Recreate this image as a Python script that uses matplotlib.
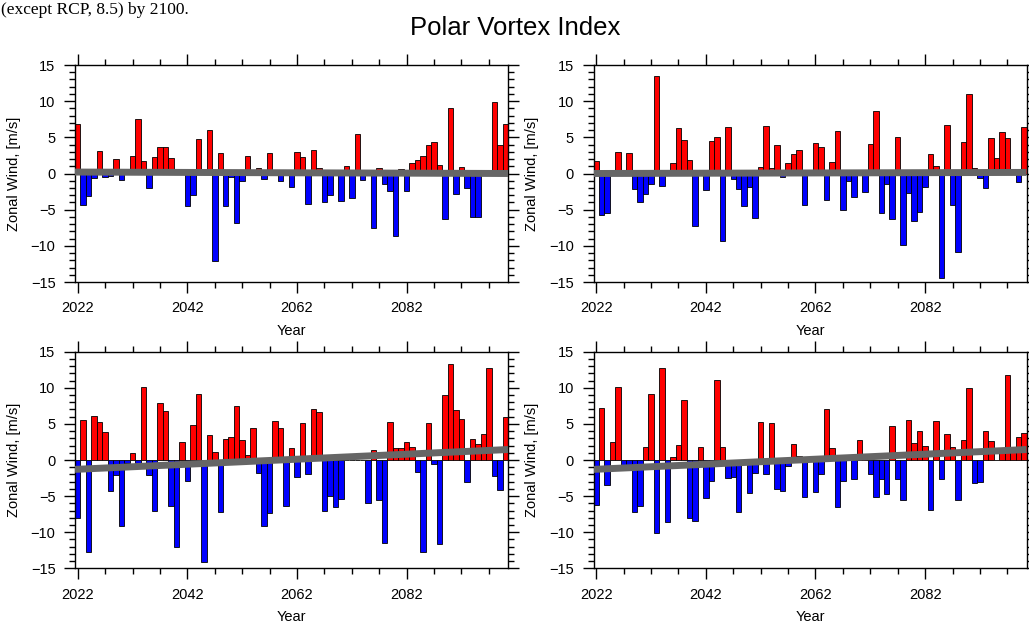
import numpy as np
import matplotlib
matplotlib.use('Agg')
import matplotlib.pyplot as plt
from matplotlib.ticker import MultipleLocator, FixedLocator

plt.rcParams['font.family'] = ['Liberation Sans', 'DejaVu Sans']

# Years on the x axis
years = np.arange(2022, 2101)

# Zonal wind anomaly per year (m/s), one value per year 2022..2100
wind_1 = [6.8, -4.3, -3.1, -0.6, 3.1, -0.45, -0.4, 2.0, -0.9, 0.0,
          2.4, 7.6, 1.75, -2.0, 2.3, 3.6, 3.65, 2.2, 0.0, 0.0,
          -4.5, -3.0, 4.75, 0.0, 6.05, -12.1, 2.8, -4.5, -0.5, -6.9,
          -1.1, 2.4, 0.0, 0.7, -0.8, 2.9, 0.0, -1.1, 0.0, -1.9,
          2.95, 2.3, -4.25, 3.3, 0.8, -3.9, -3.0, 0.0, -3.8, 1.05,
          -3.45, 5.5, -0.9, 0.0, -7.6, 0.7, -1.5, -2.45, -8.6, 0.65,
          -2.4, 1.45, 1.9, 2.45, 3.9, 4.4, 1.15, -6.35, 9.05, -2.85,
          0.85, -1.95, -6.0, -6.0, 0.0, 0.0, 9.85, 3.9, 6.9]

wind_2 = [1.7, -5.8, -5.5, 0.5, 2.95, 0.5, 2.85, -2.15, -3.9, -2.85,
          -1.5, 13.5, -1.7, 0.0, 1.4, 6.35, 4.7, 1.9, -7.2, 0.0,
          -2.25, 4.45, 5.1, -9.3, 6.45, -0.8, -2.1, -4.5, -1.85, -6.2,
          0.9, 6.6, 0.8, 3.9, -0.45, 1.5, 2.7, 3.2, -4.4, 0.0,
          4.2, 3.7, -3.7, 1.65, 5.9, -5.1, -1.05, -3.2, 0.0, -2.55,
          4.1, 8.7, -5.45, -1.4, -6.3, 5.0, -9.9, -2.75, -6.6, -5.3,
          -1.85, 2.75, 1.1, -14.45, 6.7, -4.4, -10.85, 4.35, 11.0, 0.8,
          -0.6, -2.0, 4.85, 2.15, 5.7, 4.9, 0.0, -1.15, 6.4]

wind_3 = [-8.0, 5.5, -12.8, 6.1, 5.2, 3.85, -4.35, -2.1, -9.1, -0.45,
          1.0, -0.45, 10.05, -2.1, -7.05, 7.9, 6.85, -6.35, -12.1, 2.45,
          -2.9, 4.9, 9.1, -14.1, 3.45, 1.15, -7.25, 2.95, 3.2, 7.5,
          2.8, 0.7, 4.45, -1.8, -9.2, -7.4, 5.4, 4.45, -6.35, 1.6,
          -2.3, 5.1, -1.95, 7.0, 6.7, -7.0, -4.95, -6.45, -5.45, 0.0,
          0.0, 0.0, 0.0, -6.0, 1.4, -5.55, -11.55, 5.2, 1.6, 1.6,
          2.45, 1.8, -1.7, -12.8, 5.15, -0.5, -11.7, 8.95, 13.35, 6.95,
          5.7, -3.0, 2.9, 2.25, 3.55, 12.75, -2.2, -4.2, 6.0]

wind_4 = [-6.2, 7.25, -3.5, 2.45, 10.1, -0.65, -0.65, -7.15, -6.4, 1.8,
          9.1, -10.1, 12.8, -8.6, 0.35, 2.05, 8.3, -8.1, -8.45, 1.8,
          -5.25, -2.9, 11.1, 1.8, -2.5, -2.4, -7.2, 0.0, -4.6, -1.75,
          5.25, -1.95, 5.1, -4.05, -4.25, -0.85, 2.15, 0.6, -5.15, 0.0,
          -4.4, -1.9, 7.1, 1.7, -6.55, -2.85, 0.7, -2.7, 2.8, 0.85,
          -1.95, -5.1, -2.6, -4.75, 4.75, -2.7, -5.6, 5.6, 2.35, 4.05,
          2.0, -6.9, 5.4, -2.7, 3.55, 1.75, -5.55, 2.8, 10.0, -3.15,
          -3.05, 4.05, 2.65, 0.0, 1.2, 11.8, 1.7, 3.2, 3.8]

# Linear trend line, value at the left and right edge of each panel
trend_1 = [0.2, 0.0]
trend_2 = [0.0, 0.15]
trend_3 = [-1.3, 1.45]
trend_4 = [-1.3, 1.45]

title = 'Polar Vortex Index'
note = '(except RCP, 8.5) by 2100.'
ylab = 'Zonal Wind, [m/s]'
xlab = 'Year'

W, H = 1029, 625
fig = plt.figure(figsize=(W / 100., H / 100.), dpi=100)

# panel boxes in pixels: left, top, width, height
boxes = [(75, 65, 433, 217), (593.5, 65, 433, 217),
         (75, 351.7, 433, 216.6), (593.5, 351.7, 433, 216.6)]
winds = [wind_1, wind_2, wind_3, wind_4]
trends = [trend_1, trend_2, trend_3, trend_4]

for box, w, tr in zip(boxes, winds, trends):
    x0, y0, bw, bh = box
    ax = fig.add_axes([x0 / W, 1 - (y0 + bh) / H, bw / W, bh / H])
    w = np.array(w)
    cols = np.where(w >= 0, 'red', 'blue')
    ax.bar(years, w, width=1.0, color=cols, edgecolor='black', linewidth=0.6, zorder=2)
    ax.plot([2021.5, 2100.5], tr, color='#666666', lw=5, solid_capstyle='butt', zorder=3)

    ax.set_xlim(2021.5, 2100.5)
    ax.set_ylim(-15, 15)
    ax.xaxis.set_major_locator(FixedLocator([2022, 2042, 2062, 2082]))
    ax.xaxis.set_minor_locator(FixedLocator(np.arange(2027, 2100, 5)))
    ax.yaxis.set_major_locator(MultipleLocator(5))
    ax.yaxis.set_minor_locator(MultipleLocator(1))
    ax.tick_params(which='both', direction='out', top=True, right=True,
                   labeltop=False, labelright=False, width=1.0, labelsize=10.5)
    ax.tick_params(which='major', length=8, pad=6)
    ax.tick_params(which='minor', length=4.5)
    for s in ax.spines.values():
        s.set_linewidth(1.0)

    ax.set_ylabel(ylab, fontsize=10.5)
    ax.yaxis.set_label_coords(-0.125, 0.5)
    ax.set_xlabel(xlab, fontsize=10.5)
    ax.xaxis.set_label_coords(0.5, -0.194)

fig.text(515 / W, 1 - 28 / H, title, ha='center', va='center', fontsize=18.5)
fig.text(1 / W, 1 - 14 / H, note, ha='left', va='baseline', fontsize=12.5,
         family='Liberation Serif')

fig.savefig('out.png', dpi=100)
